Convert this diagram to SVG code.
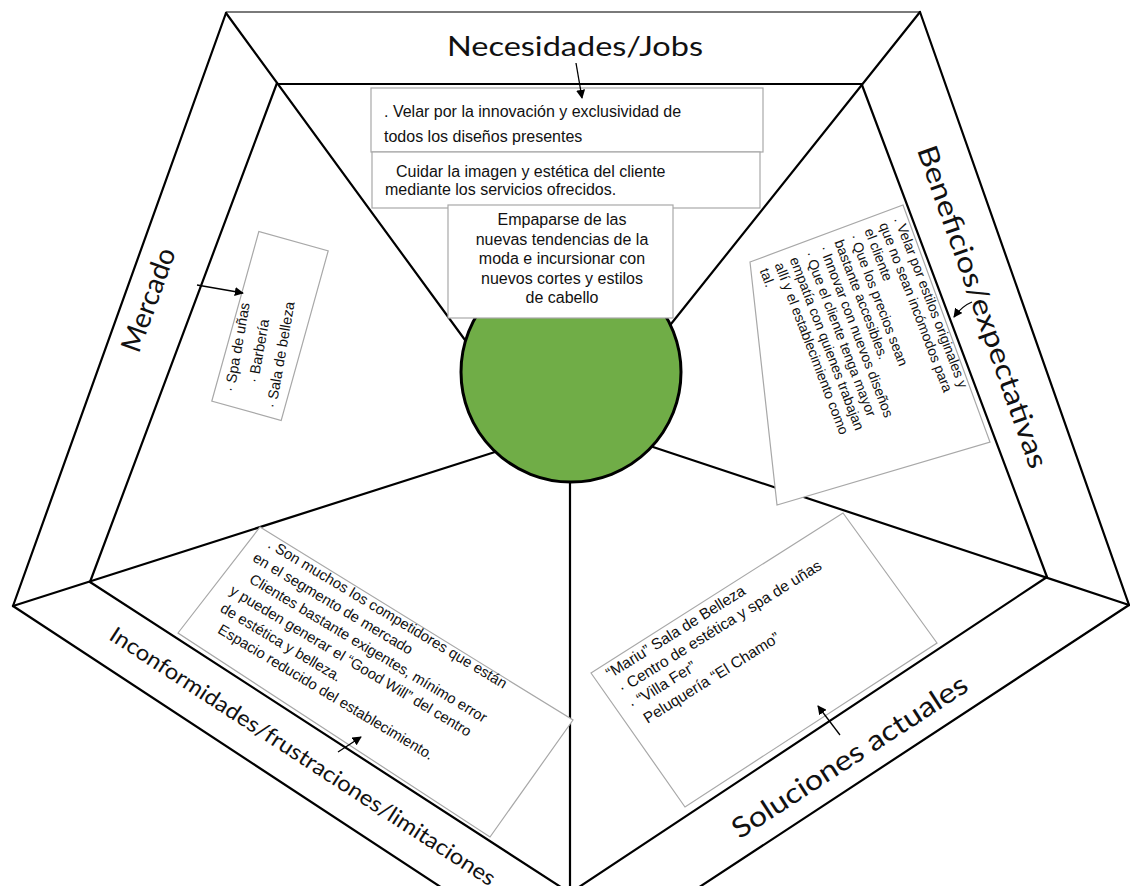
<svg xmlns="http://www.w3.org/2000/svg" width="1130" height="886" viewBox="0 0 1130 886">
<style>
.ln{stroke:#000;stroke-width:2.2;fill:none;stroke-linecap:round}
.box{fill:#fff;stroke:#a8a8a8;stroke-width:1.2}
.t{font-family:"Liberation Sans",Arial,sans-serif;fill:#111}
.ttl{font-family:Lato,"Open Sans",sans-serif;fill:#111;text-anchor:middle}
.ar{stroke:#000;stroke-width:1.3;fill:none}
</style>
<defs>
<marker id="ah" viewBox="0 0 10 10" refX="9" refY="5" markerWidth="7" markerHeight="7" orient="auto"><path d="M0,0 L10,5 L0,10 z" fill="#000"/></marker>
</defs>
<rect width="1130" height="886" fill="#fff"/>
<g id="frame">
<line x1="226" y1="12" x2="920" y2="12" stroke="#7a7a7a" stroke-width="2"/>
<line class="ln" x1="277" y1="84" x2="862" y2="84"/>
<line class="ln" x1="226" y1="13" x2="13" y2="606"/>
<line class="ln" x1="277" y1="83" x2="90" y2="582"/>
<line class="ln" x1="920" y1="12" x2="1129" y2="605"/>
<line class="ln" x1="862" y1="85" x2="1047" y2="577"/>
<line class="ln" x1="226" y1="13" x2="465" y2="340"/>
<line class="ln" x1="920" y1="12" x2="671" y2="324"/>
<line class="ln" x1="13" y1="606" x2="495" y2="452"/>
<line class="ln" x1="1129" y1="605" x2="653" y2="447"/>
<line class="ln" x1="13" y1="606" x2="570" y2="972"/>
<line class="ln" x1="90" y1="582" x2="570" y2="893"/>
<line class="ln" x1="1047" y1="577" x2="570" y2="893"/>
<line class="ln" x1="1129" y1="605" x2="570" y2="972"/>
<line class="ln" x1="570" y1="480" x2="570" y2="890"/>
</g>
<g id="center-circle">
<circle cx="571" cy="372" r="110" fill="#70ad47" stroke="#000" stroke-width="3"/>
</g>
<g id="title-necesidades">
<text class="ttl" x="575" y="56" font-size="27" textLength="256" lengthAdjust="spacingAndGlyphs">Necesidades/Jobs</text>
</g>
<g id="title-mercado" transform="translate(149,300) rotate(-70)">
<text class="ttl" x="0" y="9" font-size="28">Mercado</text>
</g>
<g id="title-beneficios" transform="translate(982,307) rotate(70.5)">
<text class="ttl" x="0" y="9" font-size="28" textLength="340" lengthAdjust="spacingAndGlyphs">Beneficios/expectativas</text>
</g>
<g id="title-inconformidades" transform="translate(303,756) rotate(33)">
<text class="ttl" x="0" y="8" font-size="22" textLength="455" lengthAdjust="spacingAndGlyphs">Inconformidades/frustraciones/limitaciones</text>
</g>
<g id="title-soluciones" transform="translate(850,757) rotate(-33)">
<text class="ttl" x="0" y="9" font-size="28" textLength="275" lengthAdjust="spacingAndGlyphs">Soluciones actuales</text>
</g>
<g id="box-necesidades-1">
<rect class="box" x="371" y="88" width="392" height="64"/>
<text class="t" font-size="16" x="384" y="117">. Velar por la innovación y exclusividad de</text>
<text class="t" font-size="16" x="384" y="142">todos los diseños presentes</text>
</g>
<g id="box-necesidades-2">
<rect class="box" x="372" y="152" width="388" height="56"/>
<text class="t" font-size="16" x="396" y="177">Cuidar la imagen y estética del cliente</text>
<text class="t" font-size="16" x="385" y="195">mediante los servicios ofrecidos.</text>
</g>
<g id="box-necesidades-3">
<rect class="box" x="448" y="205" width="225" height="113"/>
<g class="t" font-size="16" text-anchor="middle">
<text x="562" y="225">Empaparse de las</text>
<text x="562" y="245">nuevas tendencias de la</text>
<text x="562" y="264">moda e incursionar con</text>
<text x="562" y="284">nuevos cortes y estilos</text>
<text x="562" y="303">de cabello</text>
</g>
</g>
<g id="box-mercado">
<rect class="box" x="-36" y="-88" width="72" height="176" transform="translate(270,326) rotate(15.5)"/>
<g class="t" font-size="14.5" text-anchor="middle" transform="translate(242,348) rotate(-80)">
<text x="0" y="0">· Spa de uñas</text>
<text x="0" y="22">· Barbería</text>
<text x="0" y="44">· Sala de belleza</text>
</g>
</g>
<g id="box-beneficios">
<polygon class="box" points="750,262 903,205 990,442 777,505"/>
<g class="t" font-size="14" transform="translate(894,219) rotate(69)">
<text x="0" y="0">. Velar por estilos originales y</text>
<text x="0" y="16">que no sean incómodos para</text>
<text x="0" y="32">el cliente</text>
<text x="0" y="48">· Que los precios sean</text>
<text x="0" y="64">bastante accesibles.</text>
<text x="0" y="80">· Innovar con nuevos diseños</text>
<text x="0" y="96">· Que el cliente tenga mayor</text>
<text x="0" y="112">empatía con quienes trabajan</text>
<text x="0" y="128">allí y el establecimiento como</text>
<text x="0" y="144">tal.</text>
</g>
</g>
<g id="box-inconformidades">
<polygon class="box" points="260,527 573,720 490,837 178,633"/>
<g class="t" font-size="14.8" transform="translate(267,547) rotate(31)">
<text x="0" y="0">. Son muchos los competidores que están</text>
<text x="-6" y="19.5">en el segmento de mercado</text>
<text x="2" y="39.5">Clientes bastante exigentes, mínimo error</text>
<text x="-9" y="59.5">y pueden generar el “Good Will” del centro</text>
<text x="-8" y="79.5">de estética y belleza.</text>
<text x="1" y="99">Espacio reducido del establecimiento.</text>
</g>
</g>
<g id="box-soluciones">
<polygon class="box" points="591,673 843,513 937,643 685,807"/>
<g class="t" font-size="15.5" transform="translate(610,679) rotate(-32)">
<text x="0" y="0">“Mariu” Sala de Belleza</text>
<text x="3" y="19">· Centro de estética y spa de uñas</text>
<text x="3" y="38">· “Villa Fer”</text>
<text x="8" y="58">Peluquería “El Chamo”</text>
</g>
</g>
<g id="connectors">
<line class="ar" x1="576" y1="63" x2="582" y2="98" marker-end="url(#ah)"/>
<line class="ar" x1="197" y1="285" x2="243" y2="293" marker-end="url(#ah)"/>
<path class="ar" d="M972,302 Q962,306 954,317" marker-end="url(#ah)"/>
<line class="ar" x1="338" y1="752" x2="361" y2="737" marker-end="url(#ah)"/>
<line class="ar" x1="840" y1="735" x2="818" y2="706" marker-end="url(#ah)"/>
</g>
</svg>
